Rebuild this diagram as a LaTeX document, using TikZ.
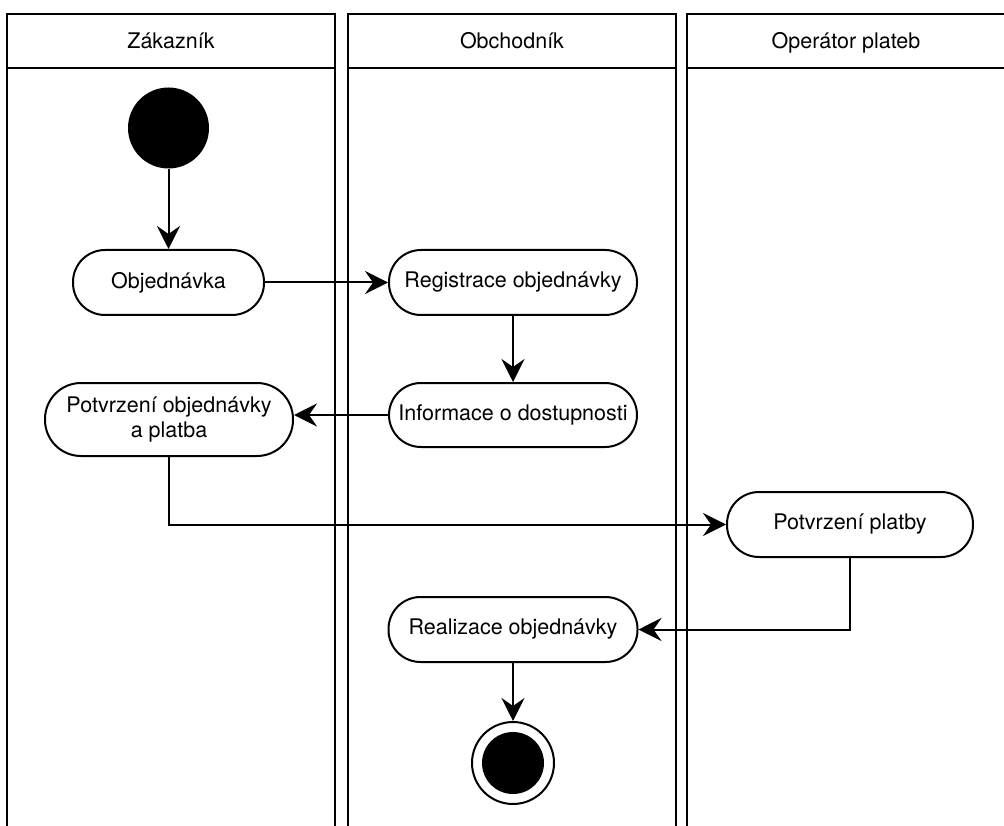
\documentclass[tikz,border=0pt]{standalone}
\usepackage{fontspec}
\setmainfont{TeX Gyre Heros}
\usetikzlibrary{arrows.meta}
\begin{document}
\begin{tikzpicture}[x=1pt,y=-1pt,
  font=\fontsize{21.5}{25}\selectfont,
  lane/.style={draw,line width=2.3pt},
  lanetitle/.style={anchor=base},
  action/.style={draw,line width=2pt,rectangle,rounded corners=32pt,
    minimum height=65pt,align=center,inner sep=0pt},
  flow/.style={line width=2pt,-{Stealth[length=23pt,width=23pt,inset=8pt]}},
  startnode/.style={circle,fill=black,minimum size=81pt,inner sep=0pt},
  endnode/.style={circle,draw,line width=2pt,minimum size=82pt,inner sep=0pt,
    path picture={\fill (path picture bounding box.center) circle (31pt);}}]
\useasboundingbox (0,0) rectangle (1004,826);
\clip (0,0) rectangle (1004,826);

% swimlanes
\draw[lane] (7,840) -- (7,14) -- (335,14) -- (335,840) (7,68) -- (335,68);
\draw[lane] (348,840) -- (348,14) -- (676,14) -- (676,840) (348,68) -- (676,68);
\draw[lane] (687,840) -- (687,14) -- (1020,14) (687,68) -- (1020,68);
\node[lanetitle] (l1) at (171,48.5) {Zákazník};
\node[lanetitle] (l2) at (512,48.5) {Obchodník};
\node[lanetitle] (l3) at (846,48.5) {Operátor plateb};

% activities
\node[startnode] (init) at (168.5,128) {};
\node[action,minimum width=191pt] (obj) at (168.5,282.5) {Objednávka};
\node[action,minimum width=248pt] (reg) at (513,282.5) {Registrace objednávky};
\node[action,minimum width=248pt,minimum height=64pt] (info) at (513,415) {Informace o dostupnosti};
\node[action,minimum width=248pt,minimum height=73pt,rounded corners=36pt] (pot) at (169,419.5) {Potvrzení objednávky\\a platba};
\node[action,minimum width=246pt] (plat) at (850,524.5) {Potvrzení platby};
\node[action,minimum width=249pt] (real) at (513,629.5) {Realizace objednávky};
\node[endnode] (final) at (513,763) {};

% control flow
\draw[flow] (init) -- (obj);
\draw[flow] (obj) -- (reg);
\draw[flow] (reg) -- (info);
\draw[flow] (info.west) -- (info.west -| pot.east);
\draw[flow] (pot.south) |- (plat.west);
\draw[flow] (plat.south) |- (real.east);
\draw[flow] (real) -- (final);
\end{tikzpicture}
\end{document}
